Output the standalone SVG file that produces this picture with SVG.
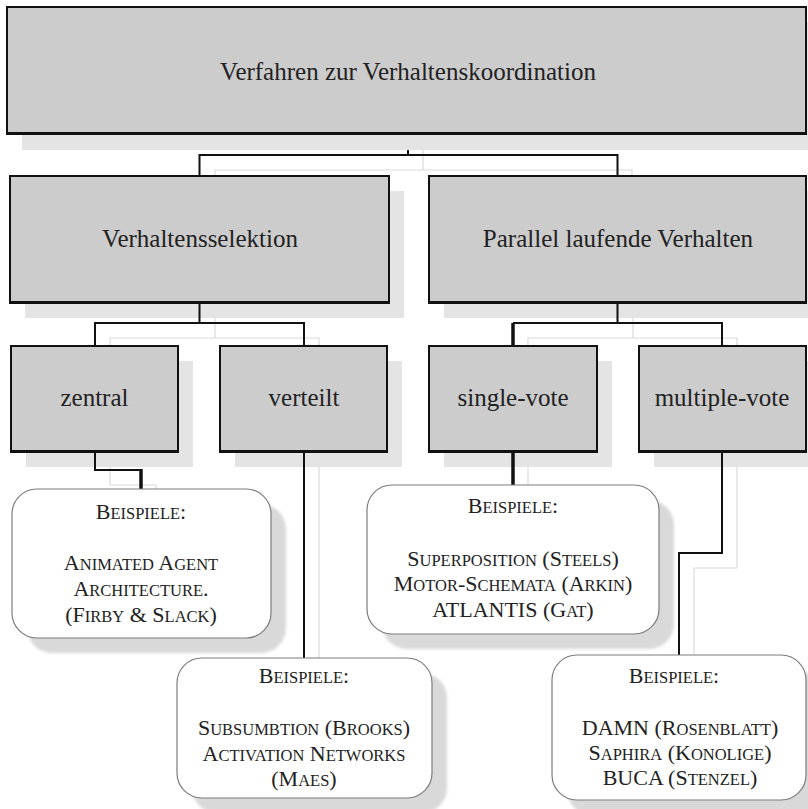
<svg xmlns="http://www.w3.org/2000/svg" width="808" height="809" viewBox="0 0 808 809">
  <defs>
    <style>
      .box{fill:#cccccc;stroke:#111;stroke-width:2}
      .base{stroke:#111;stroke-width:3}
      .shadow{fill:#e4e4e4}
      .cshadow{fill:#d9d9d9;filter:url(#soft)}
      .card{fill:#ffffff;stroke:#7c7c7c;stroke-width:1.2}
      .wire{fill:none;stroke:#111;stroke-width:2}
      .thick{stroke-width:3.5}
      .wshadow{fill:none;stroke:#dadada;stroke-width:1.2}
      .lbl{font-family:"Liberation Serif","Times New Roman",serif;font-size:25px;fill:#222;text-anchor:middle}
      .ex{font-family:"Liberation Serif","Times New Roman",serif;font-size:22px;fill:#222;text-anchor:middle}
      .sc{font-size:16.5px}
    </style>
    <filter id="soft" x="-10%" y="-10%" width="120%" height="120%">
      <feGaussianBlur stdDeviation="1.5"/>
    </filter>
  </defs>
  <rect width="808" height="809" fill="#ffffff"/>

  <!-- faint offset copies of the connectors -->
  <g id="connector-shadows">
    <path class="wshadow" d="M423,150 V170 M215,191 V170 H632 V191"/>
    <path class="wshadow" d="M215,318 V338 M110,361 V338 H319 V361"/>
    <path class="wshadow" d="M633,318 V338 M528,361 V338 H737 V361"/>
    <path class="wshadow" d="M110,467 V485 H156 V504"/>
    <path class="wshadow" d="M319,467 V673"/>
    <path class="wshadow" d="M528,467 V500"/>
    <path class="wshadow" d="M737,467 V568 H694 V670"/>
  </g>

  <!-- drop shadows of the nodes -->
  <g id="node-shadows">
    <rect class="shadow" x="22" y="22" width="800" height="128"/>
    <rect class="shadow" x="25" y="191" width="379" height="127"/>
    <rect class="shadow" x="444" y="191" width="377" height="127"/>
    <rect class="shadow" x="26" y="361" width="167" height="106"/>
    <rect class="shadow" x="235" y="361" width="167" height="106"/>
    <rect class="shadow" x="444" y="361" width="168" height="106"/>
    <rect class="shadow" x="654" y="361" width="167" height="106"/>
    <rect class="cshadow" x="27" y="504" width="259" height="149" rx="25"/>
    <rect class="cshadow" x="382" y="500" width="292" height="149" rx="25"/>
    <rect class="cshadow" x="192" y="673" width="255" height="140" rx="25"/>
    <rect class="cshadow" x="567" y="670" width="254" height="145" rx="25"/>
  </g>

  <g id="connectors">
    <path class="wire" d="M408,150 V155 M199.5,176 V155 H617.5 V176"/>
    <path class="wire" d="M199.5,299 V323 M95,346 V323 H304 V346"/>
    <path class="wire" d="M617.5,299 V323 M722,346 V323 H513"/>
    <path class="wire thick" d="M513,323 V346"/>
    <path class="wire" d="M95,447 V470 H141"/>
    <path class="wire thick" d="M141,469 V489"/>
    <path class="wire" d="M304,452 V658"/>
    <path class="wire thick" d="M513,447 V485"/>
    <path class="wire" d="M722,452 V553 H679 V655"/>
  </g>

  <g id="n-root">
    <rect class="box" x="7" y="7" width="799" height="127"/>
    <line class="base" x1="6" y1="133.5" x2="807" y2="133.5"/>
    <text class="lbl" x="408" y="80">Verfahren zur Verhaltenskoordination</text>
  </g>

  <g id="n-selektion">
    <rect class="box" x="10" y="176" width="379" height="127"/>
    <line class="base" x1="9" y1="302.5" x2="390" y2="302.5"/>
    <text class="lbl" x="200" y="247">Verhaltensselektion</text>
  </g>

  <g id="n-parallel">
    <rect class="box" x="429" y="176" width="377" height="127"/>
    <line class="base" x1="428" y1="302.5" x2="807" y2="302.5"/>
    <text class="lbl" x="618" y="247">Parallel laufende Verhalten</text>
  </g>

  <g id="n-zentral">
    <rect class="box" x="11" y="346" width="167" height="106"/>
    <line class="base" x1="10" y1="451.5" x2="179" y2="451.5"/>
    <text class="lbl" x="94.5" y="406">zentral</text>
  </g>

  <g id="n-verteilt">
    <rect class="box" x="220" y="346" width="167" height="106"/>
    <line class="base" x1="219" y1="451.5" x2="388" y2="451.5"/>
    <text class="lbl" x="304" y="406">verteilt</text>
  </g>

  <g id="n-single">
    <rect class="box" x="429" y="346" width="168" height="106"/>
    <line class="base" x1="428" y1="451.5" x2="598" y2="451.5"/>
    <text class="lbl" x="513" y="406">single-vote</text>
  </g>

  <g id="n-multiple">
    <rect class="box" x="639" y="346" width="167" height="106"/>
    <line class="base" x1="638" y1="451.5" x2="807" y2="451.5"/>
    <text class="lbl" x="722" y="406">multiple-vote</text>
  </g>

  <g id="ex-zentral">
    <rect class="card" x="12" y="489" width="259" height="149" rx="25"/>
    <text class="ex" x="141" y="519">B<tspan class="sc">EISPIELE</tspan>:</text>
    <text class="ex" x="141" y="570">A<tspan class="sc">NIMATED</tspan> A<tspan class="sc">GENT</tspan></text>
    <text class="ex" x="141" y="596">A<tspan class="sc">RCHITECTURE</tspan>.</text>
    <text class="ex" x="141" y="622">(F<tspan class="sc">IRBY</tspan> &amp; S<tspan class="sc">LACK</tspan>)</text>
  </g>

  <g id="ex-single">
    <rect class="card" x="367" y="485" width="292" height="149" rx="25"/>
    <text class="ex" x="513" y="513">B<tspan class="sc">EISPIELE</tspan>:</text>
    <text class="ex" x="513" y="566">S<tspan class="sc">UPERPOSITION</tspan> (S<tspan class="sc">TEELS</tspan>)</text>
    <text class="ex" x="513" y="591">M<tspan class="sc">OTOR</tspan>-S<tspan class="sc">CHEMATA</tspan> (A<tspan class="sc">RKIN</tspan>)</text>
    <text class="ex" x="513" y="617">ATLANTIS (G<tspan class="sc">AT</tspan>)</text>
  </g>

  <g id="ex-verteilt">
    <rect class="card" x="177" y="658" width="255" height="140" rx="25"/>
    <text class="ex" x="304" y="683">B<tspan class="sc">EISPIELE</tspan>:</text>
    <text class="ex" x="304" y="735">S<tspan class="sc">UBSUMBTION</tspan> (B<tspan class="sc">ROOKS</tspan>)</text>
    <text class="ex" x="304" y="761">A<tspan class="sc">CTIVATION</tspan> N<tspan class="sc">ETWORKS</tspan></text>
    <text class="ex" x="304" y="786">(M<tspan class="sc">AES</tspan>)</text>
  </g>

  <g id="ex-multiple">
    <rect class="card" x="552" y="655" width="254" height="145" rx="25"/>
    <text class="ex" x="674" y="683">B<tspan class="sc">EISPIELE</tspan>:</text>
    <text class="ex" x="680" y="735">DAMN (R<tspan class="sc">OSENBLATT</tspan>)</text>
    <text class="ex" x="680" y="760">S<tspan class="sc">APHIRA</tspan> (K<tspan class="sc">ONOLIGE</tspan>)</text>
    <text class="ex" x="680" y="785">BUCA (S<tspan class="sc">TENZEL</tspan>)</text>
  </g>
</svg>
